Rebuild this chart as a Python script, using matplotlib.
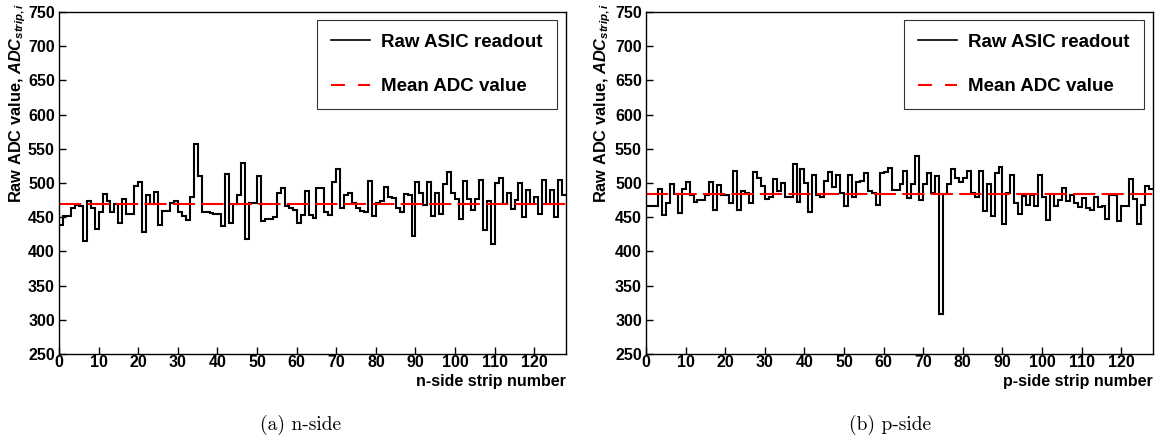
import numpy as np
import matplotlib
matplotlib.use("Agg")
import matplotlib.pyplot as plt
from matplotlib.lines import Line2D

plt.rcParams["font.family"] = "Liberation Sans"
plt.rcParams["font.weight"] = "bold"
plt.rcParams["mathtext.fontset"] = "custom"
plt.rcParams["mathtext.rm"] = "Liberation Sans"
plt.rcParams["mathtext.it"] = "Liberation Sans:italic"
plt.rcParams["lines.scale_dashes"] = False

# --- data: raw ADC value per strip ---
n_side = [438, 452, 452, 463, 468, 466, 415, 474, 463, 433,
          457, 484, 473, 458, 470, 441, 477, 454, 454, 496,
          502, 428, 482, 469, 487, 439, 459, 459, 471, 473,
          458, 452, 446, 480, 557, 510, 458, 458, 456, 455,
          455, 437, 513, 442, 469, 483, 529, 418, 471, 471,
          510, 445, 448, 448, 451, 485, 492, 466, 464, 460,
          441, 453, 489, 453, 449, 492, 492, 458, 453, 501,
          520, 463, 483, 486, 471, 464, 459, 457, 503, 452,
          471, 473, 494, 479, 478, 464, 457, 484, 482, 422,
          501, 485, 468, 501, 452, 486, 455, 498, 516, 485,
          477, 447, 503, 476, 460, 477, 505, 431, 473, 411,
          500, 507, 470, 485, 462, 475, 500, 450, 490, 470,
          480, 455, 505, 470, 490, 450, 505, 483]
p_side = [466, 466, 466, 491, 453, 471, 499, 484, 456, 491,
          501, 483, 472, 475, 475, 482, 502, 461, 497, 482,
          482, 471, 517, 461, 488, 486, 471, 516, 507, 495,
          477, 480, 506, 488, 500, 479, 479, 528, 472, 520,
          500, 458, 512, 483, 480, 503, 516, 494, 512, 485,
          466, 512, 480, 501, 503, 514, 488, 486, 468, 515,
          516, 522, 490, 490, 498, 517, 478, 499, 539, 475,
          499, 514, 485, 510, 308, 484, 499, 520, 507, 502,
          507, 518, 486, 480, 518, 459, 498, 452, 515, 523,
          440, 485, 511, 471, 455, 481, 468, 483, 466, 511,
          480, 446, 484, 466, 475, 492, 473, 483, 471, 465,
          478, 463, 460, 480, 465, 467, 448, 483, 483, 445,
          466, 467, 506, 476, 440, 468, 496, 491]
n_mean = 470
p_mean = 484
x_ticks = list(range(0, 130, 10))
y_ticks = list(range(250, 751, 50))

W, H = 1163, 444
fig = plt.figure(figsize=(W / 100, H / 100), dpi=100)


def px_axes(x0, y0, x1, y1):
    return fig.add_axes([x0 / W, 1 - y1 / H, (x1 - x0) / W, (y1 - y0) / H])


def draw_panel(ax, vals, mean, xlabel, ylab_x):
    edges = np.arange(len(vals) + 1)
    ax.stairs(vals, edges, color="black", lw=1.5, baseline=None)
    ax.axhline(mean, color="red", lw=1.5, linestyle=(0, (16, 4.5)))
    ax.set_xlim(0, 128)
    ax.set_ylim(250, 750)
    ax.set_xticks(x_ticks)
    ax.set_yticks(y_ticks)
    ax.tick_params(direction="in", length=5, width=1, labelsize=11.5, pad=3)
    ax.tick_params(axis="x", pad=1)
    for lab in ax.get_xticklabels() + ax.get_yticklabels():
        lab.set_fontweight("bold")
    for sp in ax.spines.values():
        sp.set_linewidth(1.0)
    ax.text(1.0, -0.058, xlabel, transform=ax.transAxes, ha="right", va="top",
            fontsize=11.5, fontweight="bold")
    fig.text(ylab_x / W, 1 - 3 / H, r"Raw ADC value, $ADC_{strip,i}$",
             rotation=90, ha="center", va="top", fontsize=11.8, fontweight="bold")
    handles = [Line2D([], [], color="black", lw=1.2),
               Line2D([], [], color="red", lw=1.5, linestyle=(0, (10, 9.5)))]
    leg = ax.legend(handles, ["Raw ASIC readout", "Mean ADC value"],
                    loc="upper right", bbox_to_anchor=(0.982, 0.977),
                    prop={"family": "Liberation Sans", "weight": "bold", "size": 13.5},
                    frameon=True, fancybox=False, edgecolor="black",
                    handlelength=2.1, handletextpad=0.6, labelspacing=1.45,
                    borderpad=0.75, borderaxespad=0)
    leg.get_frame().set_linewidth(0.8)


ax1 = px_axes(59, 12, 566, 354)
draw_panel(ax1, n_side, n_mean, "n-side strip number", 18)
ax2 = px_axes(646, 12, 1153, 354)
draw_panel(ax2, p_side, p_mean, "p-side strip number", 603)

fig.text(300 / W, 1 - 425 / H, "(a) n-side", ha="center", va="center",
         fontsize=14, family="cmr10", fontweight="normal")
fig.text(890 / W, 1 - 425 / H, "(b) p-side", ha="center", va="center",
         fontsize=14, family="cmr10", fontweight="normal")

fig.savefig("out.png", dpi=100)
